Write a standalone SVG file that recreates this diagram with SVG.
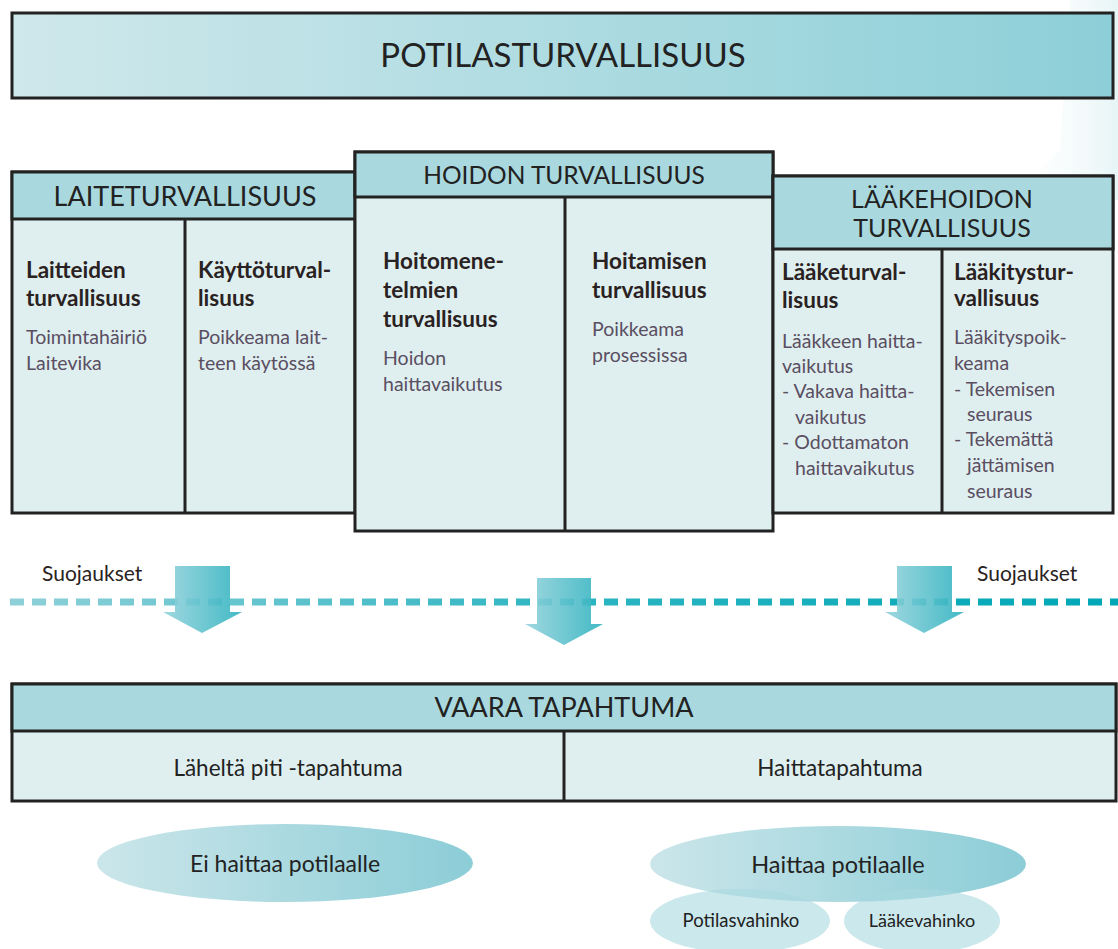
<svg xmlns="http://www.w3.org/2000/svg" width="1118" height="949" viewBox="0 0 1118 949">
<defs>
<linearGradient id="gBanner" x1="0" y1="0" x2="1" y2="0"><stop offset="0" stop-color="#cfe8eb"/><stop offset="1" stop-color="#8dcfd8"/></linearGradient>
<linearGradient id="gEll" x1="0" y1="0" x2="1" y2="0"><stop offset="0" stop-color="#cbe6ea"/><stop offset="1" stop-color="#8ccdd7"/></linearGradient>
<linearGradient id="gArrow" x1="0" y1="0" x2="1" y2="0"><stop offset="0" stop-color="#96d3dc"/><stop offset="1" stop-color="#2eb2bf"/></linearGradient>
<linearGradient id="gDash" gradientUnits="userSpaceOnUse" x1="10" y1="0" x2="1118" y2="0"><stop offset="0" stop-color="#8fd0d8"/><stop offset="0.5" stop-color="#2db5c2"/><stop offset="1" stop-color="#00a7b6"/></linearGradient>
<linearGradient id="gDeco" x1="0" y1="0" x2="1" y2="0"><stop offset="0" stop-color="#ffffff" stop-opacity="0"/><stop offset="1" stop-color="#d6eef0"/></linearGradient>
<style>
.box{stroke:#222;stroke-width:3}
.hdr{fill:#a9d9de}
.body{fill:#dfefef}
.line{stroke:#222;stroke-width:3}
.h1{font-family:Lato,"Liberation Sans",sans-serif;fill:#222;text-anchor:middle}
.sub{font-family:Lato,"Liberation Sans",sans-serif;font-weight:bold;font-size:22.5px;fill:#2a2222}
.desc{font-family:Lato,"Liberation Sans",sans-serif;font-size:19.5px;fill:#5a4e62}
.mid{font-family:Lato,"Liberation Sans",sans-serif;fill:#222;text-anchor:middle}
.suo{font-family:Lato,"Liberation Sans",sans-serif;font-size:21px;fill:#2a2222}
.sm{fill:#a9d9df;opacity:0.6}
</style>
</defs>
<rect width="1118" height="949" fill="#ffffff"/>
<polygon points="1070,0 1118,0 1118,200 1000,210 1060,150" fill="url(#gDeco)" opacity="0.6"/>

<g id="banner">
<rect x="12" y="13" width="1101" height="85" fill="url(#gBanner)" class="box"/>
<text x="563" y="67" class="h1" font-size="33">POTILASTURVALLISUUS</text>
</g>

<g id="laite">
<rect x="12" y="172" width="343" height="341" class="body box"/>
<rect x="12" y="172" width="343" height="47" class="hdr box"/>
<line x1="185" y1="219" x2="185" y2="513" class="line"/>
<text x="185" y="206" class="h1" font-size="27">LAITETURVALLISUUS</text>
<text x="26" y="278" class="sub">Laitteiden</text>
<text x="26" y="306" class="sub">turvallisuus</text>
<text x="26" y="344" class="desc">Toimintahäiriö</text>
<text x="26" y="370" class="desc">Laitevika</text>
<text x="198" y="278" class="sub">Käyttöturval-</text>
<text x="198" y="306" class="sub">lisuus</text>
<text x="198" y="344" class="desc">Poikkeama lait-</text>
<text x="198" y="370" class="desc">teen käytössä</text>
</g>

<g id="hoidon">
<rect x="355" y="152" width="418" height="379" class="body box"/>
<rect x="355" y="152" width="418" height="45" class="hdr box"/>
<line x1="565" y1="197" x2="565" y2="531" class="line"/>
<text x="564" y="184" class="h1" font-size="24.5">HOIDON TURVALLISUUS</text>
<text x="383" y="269" class="sub">Hoitomene-</text>
<text x="383" y="298" class="sub">telmien</text>
<text x="383" y="327" class="sub">turvallisuus</text>
<text x="383" y="365" class="desc">Hoidon</text>
<text x="383" y="391" class="desc">haittavaikutus</text>
<text x="592" y="269" class="sub">Hoitamisen</text>
<text x="592" y="298" class="sub">turvallisuus</text>
<text x="592" y="336" class="desc">Poikkeama</text>
<text x="592" y="362" class="desc">prosessissa</text>
</g>

<g id="laakehoidon">
<rect x="773" y="176" width="340" height="337" class="body box"/>
<rect x="773" y="176" width="340" height="73" class="hdr box"/>
<line x1="942" y1="249" x2="942" y2="513" class="line"/>
<text x="942" y="208" class="h1" font-size="25">LÄÄKEHOIDON</text>
<text x="942" y="237" class="h1" font-size="25">TURVALLISUUS</text>
<text x="782" y="280" class="sub">Lääketurval-</text>
<text x="782" y="308" class="sub">lisuus</text>
<text x="782" y="348" class="desc">Lääkkeen haitta-</text>
<text x="782" y="373" class="desc">vaikutus</text>
<text x="782" y="398" class="desc">-  Vakava haitta-</text>
<text x="795" y="424" class="desc">vaikutus</text>
<text x="782" y="449" class="desc">- Odottamaton</text>
<text x="795" y="475" class="desc">haittavaikutus</text>
<text x="954" y="280" class="sub">Lääkitystur-</text>
<text x="954" y="306" class="sub">vallisuus</text>
<text x="954" y="344" class="desc">Lääkityspoik-</text>
<text x="954" y="370" class="desc">keama</text>
<text x="954" y="396" class="desc">- Tekemisen</text>
<text x="967" y="421" class="desc">seuraus</text>
<text x="954" y="446" class="desc">- Tekemättä</text>
<text x="967" y="472" class="desc">jättämisen</text>
<text x="967" y="498" class="desc">seuraus</text>
</g>

<g id="suojaukset">
<line x1="10" y1="602" x2="1118" y2="602" stroke="url(#gDash)" stroke-width="7" stroke-dasharray="14,8"/>
<text x="42" y="581" class="suo">Suojaukset</text>
<text x="977" y="581" class="suo">Suojaukset</text>
</g>

<g id="connectors">
<polygon points="175,566 230,566 230,612 242,612 202,633 163,612 175,612" fill="url(#gArrow)" opacity="0.9"/>
<polygon points="537,578 591,578 591,624 603,624 564,645 525,624 537,624" fill="url(#gArrow)" opacity="0.9"/>
<polygon points="897,566 952,566 952,612 964,612 924,633 885,612 897,612" fill="url(#gArrow)" opacity="0.9"/>
</g>

<g id="vaara">
<rect x="12" y="684" width="1104" height="117" class="body box"/>
<rect x="12" y="684" width="1104" height="47" class="hdr box"/>
<line x1="564" y1="731" x2="564" y2="801" class="line"/>
<text x="564" y="717" class="mid" font-size="27">VAARA TAPAHTUMA</text>
<text x="288" y="776" class="mid" font-size="22.5">Läheltä piti -tapahtuma</text>
<text x="840" y="776" class="mid" font-size="22.5">Haittatapahtuma</text>
</g>

<g id="ei-haittaa">
<ellipse cx="285" cy="863" rx="188" ry="39" fill="url(#gEll)"/>
<text x="285" y="872" class="mid" font-size="23">Ei haittaa potilaalle</text>
</g>

<g id="haittaa">
<ellipse cx="838" cy="864" rx="188" ry="38" fill="url(#gEll)"/>
<text x="838" y="873" class="mid" font-size="23.5">Haittaa potilaalle</text>
</g>
<g id="potilasvahinko">
<ellipse cx="740" cy="921" rx="90" ry="32" class="sm"/>
<text x="741" y="927" class="mid" font-size="18.5" fill="#3a3a3a">Potilasvahinko</text>
</g>
<g id="laakevahinko">
<ellipse cx="922" cy="921" rx="78" ry="32" class="sm"/>
<text x="922" y="927" class="mid" font-size="18" fill="#3a3a3a">Lääkevahinko</text>
</g>
</svg>
